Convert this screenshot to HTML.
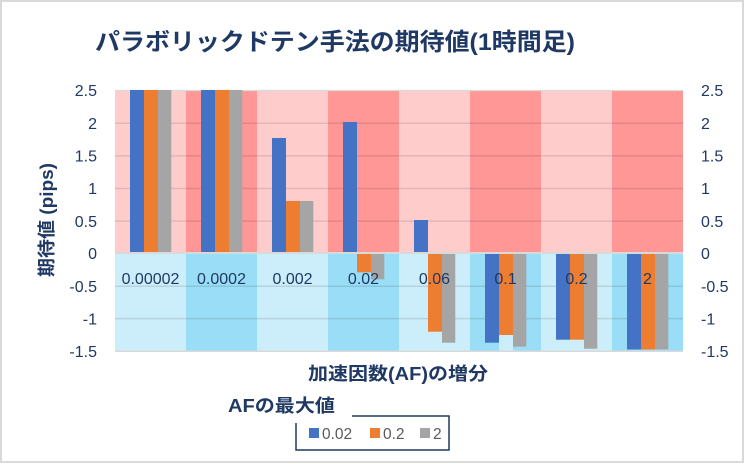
<!DOCTYPE html>
<html><head><meta charset="utf-8"><style>
html,body{margin:0;padding:0;background:#fff;}
svg{display:block;}
text{font-family:"Liberation Sans","Noto Sans CJK JP",sans-serif;}
</style></head><body>
<svg width="745" height="464" viewBox="0 0 745 464" xmlns="http://www.w3.org/2000/svg">
<rect x="0" y="0" width="745" height="464" fill="#fff"/>
<rect x="1" y="1" width="742" height="461" fill="none" stroke="#D9D9D9" stroke-width="2"/>

<!-- title -->
<text x="95" y="50" font-size="24" font-weight="bold" fill="#1F3864" textLength="480" lengthAdjust="spacingAndGlyphs">パラボリックドテン手法の期待値(1時間足)</text>

<!-- background bands positive -->
<g>
<rect x="115" y="90" width="71" height="162" fill="#FFCCCC"/>
<rect x="186" y="90" width="71" height="162" fill="#FF9797"/>
<rect x="257" y="90" width="71" height="162" fill="#FFCCCC"/>
<rect x="328" y="90" width="71" height="162" fill="#FF9797"/>
<rect x="399" y="90" width="71" height="162" fill="#FFCCCC"/>
<rect x="470" y="90" width="71" height="162" fill="#FF9797"/>
<rect x="541" y="90" width="71" height="162" fill="#FFCCCC"/>
<rect x="612" y="90" width="71" height="162" fill="#FF9797"/>
</g>
<!-- background bands negative -->
<g>
<rect x="115" y="254" width="71" height="97" fill="#CCEEFA"/>
<rect x="186" y="254" width="71" height="97" fill="#99DEF6"/>
<rect x="257" y="254" width="71" height="97" fill="#CCEEFA"/>
<rect x="328" y="254" width="71" height="97" fill="#99DEF6"/>
<rect x="399" y="254" width="71" height="97" fill="#CCEEFA"/>
<rect x="470" y="254" width="71" height="97" fill="#99DEF6"/>
<rect x="541" y="254" width="71" height="97" fill="#CCEEFA"/>
<rect x="612" y="254" width="71" height="97" fill="#99DEF6"/>
<rect x="499" y="335" width="14" height="16" fill="#CCEEFA"/>
</g>
<!-- gridlines -->
<g stroke="rgba(0,0,0,0.11)" stroke-width="1.5">
<line x1="115" y1="123.3" x2="683" y2="123.3"/>
<line x1="115" y1="155.9" x2="683" y2="155.9"/>
<line x1="115" y1="188.5" x2="683" y2="188.5"/>
<line x1="115" y1="221.1" x2="683" y2="221.1"/>
<line x1="115" y1="286.2" x2="683" y2="286.2"/>
<line x1="115" y1="318.6" x2="683" y2="318.6"/>
</g>
<line x1="115" y1="90.5" x2="683" y2="90.5" stroke="#D9D9D9" stroke-width="1.2"/>
<rect x="115" y="252" width="568" height="2" fill="#D9D9D9"/>
<rect x="115" y="350.5" width="568" height="1.5" fill="#D9D9D9"/>

<!-- bars -->
<g>
<!-- cat1 -->
<rect x="130" y="90" width="14" height="162" fill="#4472C4"/>
<rect x="144" y="90" width="14" height="162" fill="#ED7D31"/>
<rect x="158" y="90" width="13.3" height="162" fill="#A5A5A5"/>
<!-- cat2 -->
<rect x="201" y="90" width="14" height="162" fill="#4472C4"/>
<rect x="215" y="90" width="14" height="162" fill="#ED7D31"/>
<rect x="229" y="90" width="13.3" height="162" fill="#A5A5A5"/>
<!-- cat3 -->
<rect x="272" y="138" width="14" height="114" fill="#4472C4"/>
<rect x="286" y="201" width="14" height="51" fill="#ED7D31"/>
<rect x="300" y="201" width="13.3" height="51" fill="#A5A5A5"/>
<!-- cat4 -->
<rect x="343" y="122" width="14" height="130" fill="#4472C4"/>
<rect x="357" y="254" width="14" height="18.3" fill="#ED7D31"/>
<rect x="371" y="254" width="13.3" height="25.3" fill="#A5A5A5"/>
<!-- cat5 -->
<rect x="414" y="220" width="14" height="32" fill="#4472C4"/>
<rect x="428" y="254" width="14" height="77.7" fill="#ED7D31"/>
<rect x="442" y="254" width="13.3" height="88.7" fill="#A5A5A5"/>
<!-- cat6 -->
<rect x="485" y="254" width="14" height="88.7" fill="#4472C4"/>
<rect x="499" y="254" width="14" height="81" fill="#ED7D31"/>
<rect x="513" y="254" width="13.3" height="92.7" fill="#A5A5A5"/>
<!-- cat7 -->
<rect x="556" y="254" width="14" height="85.7" fill="#4472C4"/>
<rect x="570" y="254" width="14" height="85.7" fill="#ED7D31"/>
<rect x="584" y="254" width="13.3" height="94.7" fill="#A5A5A5"/>
<!-- cat8 -->
<rect x="627" y="254" width="14" height="95.5" fill="#4472C4"/>
<rect x="641" y="254" width="14" height="95.5" fill="#ED7D31"/>
<rect x="655" y="254" width="13.3" height="95.5" fill="#A5A5A5"/>
</g>

<!-- category labels -->
<g font-size="16" fill="#1F3864" text-anchor="middle">
<text x="150.5" y="284">0.00002</text>
<text x="221.5" y="284">0.0002</text>
<text x="292.5" y="284">0.002</text>
<text x="363.5" y="284">0.02</text>
<text x="434.5" y="284">0.06</text>
<text x="505.5" y="284">0.1</text>
<text x="576.5" y="284">0.2</text>
<text x="647.5" y="284">2</text>
</g>

<!-- left ticks -->
<g font-size="16" fill="#1F3864" text-anchor="end">
<text x="97" y="96">2.5</text>
<text x="97" y="129">2</text>
<text x="97" y="161.6">1.5</text>
<text x="97" y="194.2">1</text>
<text x="97" y="226.8">0.5</text>
<text x="97" y="259.2">0</text>
<text x="97" y="291.9">-0.5</text>
<text x="97" y="324.4">-1</text>
<text x="97" y="357">-1.5</text>
</g>
<!-- right ticks -->
<g font-size="16" fill="#1F3864" text-anchor="start">
<text x="701" y="96">2.5</text>
<text x="701" y="129">2</text>
<text x="701" y="161.6">1.5</text>
<text x="701" y="194.2">1</text>
<text x="701" y="226.8">0.5</text>
<text x="701" y="259.2">0</text>
<text x="701" y="291.9">-0.5</text>
<text x="701" y="324.4">-1</text>
<text x="701" y="357">-1.5</text>
</g>

<!-- y axis title -->
<text transform="translate(53,220) rotate(-90)" text-anchor="middle" font-size="18" font-weight="bold" fill="#1F3864" textLength="114" lengthAdjust="spacingAndGlyphs">期待値 (pips)</text>

<!-- x axis title -->
<text x="308" y="380" font-size="18" font-weight="bold" fill="#1F3864" textLength="180" lengthAdjust="spacingAndGlyphs">加速因数(AF)の増分</text>

<!-- legend -->
<path d="M352,416 L449,416 L449,450 L296,450 L296,423" fill="none" stroke="#1F3864" stroke-width="1.5"/>
<text x="228" y="412" font-size="18" font-weight="bold" fill="#1F3864" textLength="107" lengthAdjust="spacingAndGlyphs">AFの最大値</text>
<rect x="309" y="428" width="10" height="10" fill="#4472C4"/>
<text x="322" y="439" font-size="15.5" fill="#595959">0.02</text>
<rect x="370" y="428" width="10" height="10" fill="#ED7D31"/>
<text x="383" y="439" font-size="15.5" fill="#595959">0.2</text>
<rect x="420" y="428" width="10" height="10" fill="#A5A5A5"/>
<text x="433" y="439" font-size="15.5" fill="#595959">2</text>
</svg>
</body></html>
